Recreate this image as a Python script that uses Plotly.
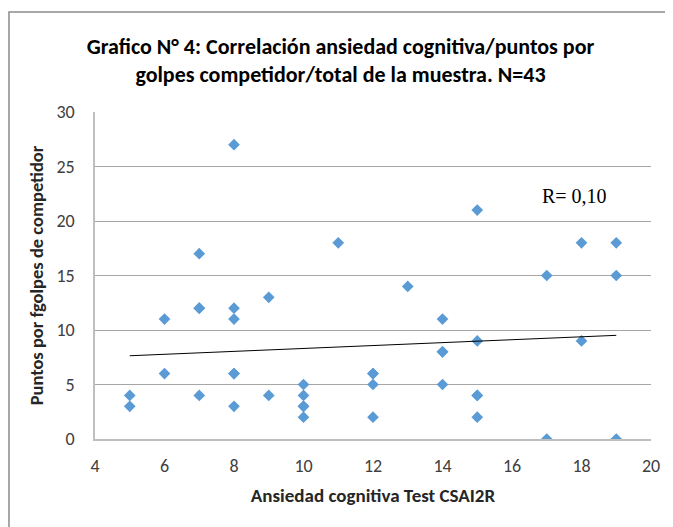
import numpy as np
import plotly.graph_objects as go

ansiedad = [5, 5, 6, 6, 7, 7, 7, 7, 8, 8, 8, 8, 8, 9, 9, 10, 10, 10, 10, 11,
            12, 12, 12, 12, 13, 14, 14, 14, 15, 15, 15, 15, 17, 17, 18, 18,
            19, 19, 19, 10, 8, 15, 14]
puntos = [4, 3, 11, 6, 17, 12, 12, 4, 27, 12, 11, 6, 3, 13, 4, 5, 4, 3, 2, 18,
          6, 6, 5, 2, 14, 11, 8, 5, 21, 9, 4, 2, 15, 0, 18, 9,
          18, 15, 0, 3, 6, 4, 8]
x_ticks = [4, 6, 8, 10, 12, 14, 16, 18, 20]
y_ticks = [0, 5, 10, 15, 20, 25, 30]
r_label = "R= 0,10"

slope, intercept = np.polyfit(ansiedad, puntos, 1)
xl = [min(ansiedad), max(ansiedad)]
yl = [slope * v + intercept for v in xl]

font_c = "Calibri, Carlito, Lato, 'Open Sans', sans-serif"

fig = go.Figure()
fig.add_trace(go.Scatter(x=ansiedad, y=puntos, mode="markers",
                         marker=dict(symbol="diamond", size=9, color="#5B9BD5"),
                         showlegend=False))
fig.add_trace(go.Scatter(x=xl, y=yl, mode="lines",
                         line=dict(color="black", width=1), showlegend=False))

fig.update_layout(
    width=665, height=519,
    paper_bgcolor="white", plot_bgcolor="white",
    margin=dict(l=87, r=22, t=104, b=88),
    title=dict(text="<b>Grafico N° 4: Correlación ansiedad cognitiva/puntos por<br>golpes competidor/total de la muestra. N=43</b>",
               x=0.5, xanchor="center", y=0.912, yanchor="middle",
               font=dict(family=font_c, size=22, color="black")),
    font=dict(family=font_c, color="#404040"),
    annotations=[dict(text=r_label, x=17.8, y=22.3, xref="x", yref="y",
                      showarrow=False,
                      font=dict(family="'Liberation Serif', 'Times New Roman', serif", size=20, color="black"))],
    shapes=[dict(type="rect", xref="paper", yref="paper",
                 x0=-0.1547, x1=1.034, y0=-0.5, y1=1.306,
                 line=dict(color="#8c8c8c", width=1.5))],
)
fig.update_xaxes(range=[4, 20], tickvals=x_ticks, showgrid=False,
                 showline=True, linecolor="#bfbfbf", linewidth=1.5,
                 ticks="", ticklabelstandoff=10, tickfont=dict(size=18, color="#404040"),
                 title=dict(text="<b>Ansiedad cognitiva Test CSAI2R</b>",
                            font=dict(size=19, color="#262626"), standoff=12),
                 zeroline=False)
fig.update_yaxes(range=[0, 30], tickvals=y_ticks, showgrid=True,
                 gridcolor="#a6a6a6", gridwidth=1,
                 showline=True, linecolor="#bfbfbf", linewidth=1.5,
                 ticks="", ticklabelstandoff=15, tickfont=dict(size=18, color="#404040"),
                 title=dict(text="<b>Puntos por fgolpes de competidor</b>",
                            font=dict(size=18.5, color="#262626"), standoff=8),
                 zeroline=False)

fig.write_html("out.html")
